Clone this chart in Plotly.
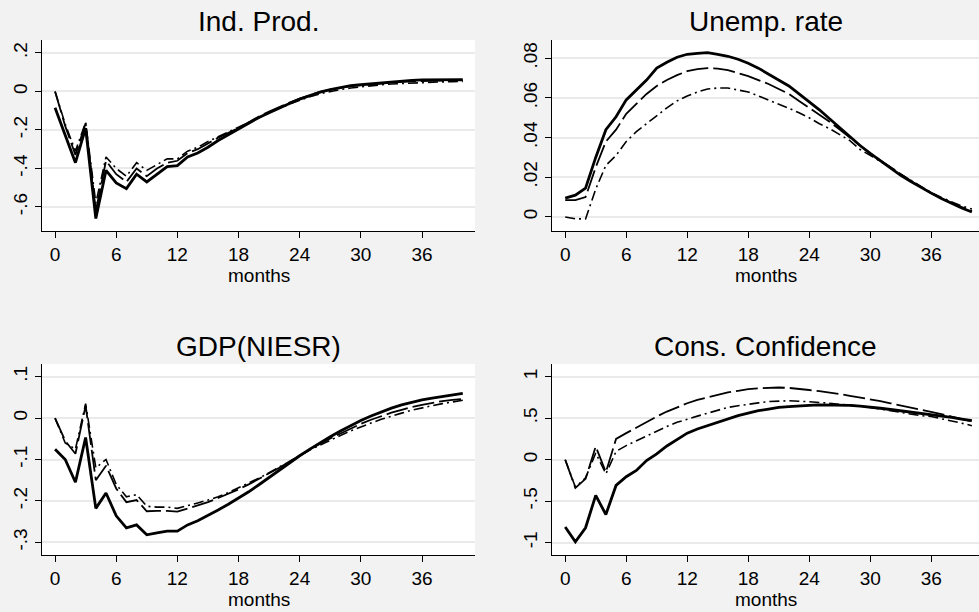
import plotly.graph_objects as go

months = list(range(41))

# Ind. Prod.
ip_solid = [-0.085, -0.23, -0.37, -0.19, -0.66, -0.41, -0.475, -0.505, -0.43, -0.47, -0.43,
            -0.39, -0.385, -0.34, -0.32, -0.29, -0.255, -0.225, -0.195, -0.165, -0.135,
            -0.11, -0.085, -0.062, -0.04, -0.02, -0.003, 0.01, 0.02, 0.03, 0.035,
            0.04, 0.045, 0.05, 0.055, 0.058, 0.06, 0.061, 0.062, 0.062, 0.062]
ip_dash = [0.0, -0.18, -0.33, -0.165, -0.62, -0.36, -0.43, -0.47, -0.40, -0.44, -0.40,
           -0.37, -0.36, -0.32, -0.30, -0.27, -0.24, -0.215, -0.19, -0.16, -0.13,
           -0.105, -0.08, -0.058, -0.037, -0.018, -0.002, 0.01, 0.02, 0.028, 0.033,
           0.038, 0.043, 0.047, 0.05, 0.053, 0.055, 0.056, 0.057, 0.058, 0.058]
ip_dashdot = [0.0, -0.17, -0.31, -0.16, -0.58, -0.34, -0.40, -0.44, -0.37, -0.41, -0.38,
              -0.35, -0.35, -0.31, -0.29, -0.26, -0.235, -0.21, -0.185, -0.16, -0.135,
              -0.11, -0.087, -0.065, -0.045, -0.027, -0.012, 0.0, 0.01, 0.018, 0.025,
              0.03, 0.035, 0.039, 0.042, 0.045, 0.047, 0.049, 0.05, 0.051, 0.052]

# Unemp. rate
ur_solid = [0.0095, 0.011, 0.0145, 0.030, 0.044, 0.0505, 0.059, 0.064, 0.069, 0.075, 0.078,
            0.0805, 0.082, 0.0825, 0.0828, 0.082, 0.081, 0.0795, 0.0775, 0.075, 0.072,
            0.069, 0.066, 0.062, 0.058, 0.054, 0.0495, 0.045, 0.0405, 0.036, 0.032,
            0.0282, 0.0245, 0.021, 0.0178, 0.0148, 0.012, 0.0093, 0.0068, 0.0045, 0.0025]
ur_dash = [0.0085, 0.0085, 0.010, 0.025, 0.038, 0.044, 0.052, 0.057, 0.062, 0.066, 0.069,
           0.0715, 0.0735, 0.0745, 0.075, 0.0748, 0.074, 0.0725, 0.071, 0.069, 0.067,
           0.0645, 0.062, 0.0585, 0.055, 0.0515, 0.048, 0.044, 0.040, 0.036, 0.032,
           0.0285, 0.025, 0.0215, 0.0182, 0.015, 0.012, 0.0095, 0.007, 0.005, 0.003]
ur_dashdot = [0.0, -0.001, -0.001, 0.014, 0.026, 0.031, 0.038, 0.043, 0.047, 0.051, 0.055,
              0.0585, 0.061, 0.063, 0.0645, 0.065, 0.065, 0.064, 0.063, 0.061, 0.059,
              0.057, 0.0548, 0.0525, 0.050, 0.047, 0.0445, 0.0415, 0.0385, 0.034, 0.031,
              0.028, 0.025, 0.0215, 0.0183, 0.0153, 0.0123, 0.0098, 0.0075, 0.0055, 0.004]

# GDP(NIESR)
gdp_solid = [-0.075, -0.1, -0.155, -0.047, -0.218, -0.181, -0.236, -0.265, -0.258, -0.282, -0.277,
             -0.273, -0.273, -0.258, -0.248, -0.236, -0.222, -0.208, -0.194, -0.178, -0.161,
             -0.143, -0.125, -0.108, -0.091, -0.075, -0.059, -0.045, -0.031, -0.018, -0.006,
             0.005, 0.015, 0.024, 0.032, 0.038, 0.044, 0.048, 0.052, 0.056, 0.06]
gdp_dash = [0.0, -0.055, -0.086, 0.03, -0.15, -0.115, -0.17, -0.203, -0.198, -0.225, -0.224,
            -0.224, -0.226, -0.218, -0.21, -0.203, -0.193, -0.183, -0.172, -0.16, -0.147,
            -0.134, -0.12, -0.105, -0.09, -0.075, -0.062, -0.049, -0.037, -0.025, -0.014,
            -0.004, 0.005, 0.013, 0.02, 0.027, 0.032, 0.037, 0.041, 0.044, 0.046]
gdp_dashdot = [0.0, -0.06, -0.075, 0.035, -0.12, -0.1, -0.16, -0.19, -0.185, -0.213, -0.215,
               -0.215, -0.218, -0.212, -0.205, -0.198, -0.19, -0.18, -0.169, -0.157, -0.145,
               -0.132, -0.118, -0.104, -0.09, -0.077, -0.065, -0.053, -0.042, -0.031, -0.021,
               -0.012, -0.003, 0.005, 0.012, 0.019, 0.025, 0.03, 0.035, 0.039, 0.043]

# Cons. Confidence
cc_solid = [-0.81, -0.99, -0.82, -0.43, -0.66, -0.31, -0.205, -0.13, -0.01, 0.07, 0.165,
            0.245, 0.32, 0.37, 0.41, 0.45, 0.49, 0.53, 0.56, 0.59, 0.61,
            0.63, 0.64, 0.65, 0.655, 0.66, 0.66, 0.66, 0.655, 0.645, 0.635,
            0.62, 0.605, 0.59, 0.575, 0.56, 0.545, 0.53, 0.51, 0.49, 0.47]
cc_dash = [0.0, -0.34, -0.23, 0.16, -0.15, 0.25, 0.32, 0.39, 0.45, 0.52, 0.58,
           0.63, 0.68, 0.72, 0.75, 0.78, 0.81, 0.83, 0.85, 0.86, 0.865,
           0.87, 0.865, 0.855, 0.84, 0.825, 0.81, 0.79, 0.77, 0.75, 0.73,
           0.705, 0.68, 0.655, 0.63, 0.605, 0.58, 0.55, 0.52, 0.49, 0.46]
cc_dashdot = [0.0, -0.33, -0.22, 0.08, -0.17, 0.1, 0.17, 0.23, 0.29, 0.35, 0.40,
              0.45, 0.49, 0.525, 0.56, 0.595, 0.63, 0.65, 0.67, 0.685, 0.70,
              0.705, 0.71, 0.705, 0.70, 0.69, 0.68, 0.67, 0.66, 0.645, 0.63,
              0.61, 0.59, 0.57, 0.55, 0.53, 0.52, 0.495, 0.47, 0.44, 0.41]

titles = ["Ind. Prod.", "Unemp. rate", "GDP(NIESR)", "Cons. Confidence"]
x_ticks = [0, 6, 12, 18, 24, 30, 36]
x_ticktext = ["0", "6", "12", "18", "24", "30", "36"]
y_ticks = [
    [0.2, 0.0, -0.2, -0.4, -0.6],
    [0.08, 0.06, 0.04, 0.02, 0.0],
    [0.1, 0.0, -0.1, -0.2, -0.3],
    [1.0, 0.5, 0.0, -0.5, -1.0],
]
y_ticktext = [
    [".2", "0", "-.2", "-.4", "-.6"],
    [".08", ".06", ".04", ".02", "0"],
    [".1", "0", "-.1", "-.2", "-.3"],
    ["1", ".5", "0", "-.5", "-1"],
]
series = [
    (ip_solid, ip_dash, ip_dashdot),
    (ur_solid, ur_dash, ur_dashdot),
    (gdp_solid, gdp_dash, gdp_dashdot),
    (cc_solid, cc_dash, cc_dashdot),
]

W, H = 979, 612
# pixel geometry of plot areas: (left, right, top, bottom)
boxes = [(42, 475, 40, 231), (552, 979, 40, 231), (42, 475, 364, 555), (552, 979, 364, 555)]
x_ranges = [[-1.28, 41.2], [-1.3, 40.7], [-1.28, 41.2], [-1.3, 40.7]]
y_ranges = [[-0.725, 0.2675], [-0.0071, 0.0892], [-0.3307, 0.1307], [-1.148, 1.153]]

FONT = "Liberation Sans, Arial, sans-serif"
fig = go.Figure()
annotations = []
for i in range(4):
    xa = "x" if i == 0 else f"x{i+1}"
    ya = "y" if i == 0 else f"y{i+1}"
    s, d, dd = series[i]
    fig.add_trace(go.Scatter(x=months, y=dd, mode="lines", xaxis=xa, yaxis=ya,
                             line=dict(color="black", width=1.6, dash="10px,4px,2px,4px")))
    fig.add_trace(go.Scatter(x=months, y=d, mode="lines", xaxis=xa, yaxis=ya,
                             line=dict(color="black", width=1.8, dash="22px,5px")))
    fig.add_trace(go.Scatter(x=months, y=s, mode="lines", xaxis=xa, yaxis=ya,
                             line=dict(color="black", width=2.8)))
    l, r, t, b = boxes[i]
    xdom = [l / W, r / W]
    ydom = [1 - b / H, 1 - t / H]
    xkey = "xaxis" if i == 0 else f"xaxis{i+1}"
    ykey = "yaxis" if i == 0 else f"yaxis{i+1}"
    fig.layout[xkey] = dict(domain=xdom, range=x_ranges[i], anchor=ya,
                            tickvals=x_ticks, ticktext=x_ticktext, ticks="outside",
                            ticklen=6, tickwidth=1.2, tickcolor="black",
                            showline=True, linecolor="black", linewidth=1.3,
                            showgrid=False, zeroline=False,
                            tickfont=dict(family=FONT, size=19, color="black"))
    fig.layout[ykey] = dict(domain=ydom, range=y_ranges[i], anchor=xa,
                            tickvals=y_ticks[i], ticktext=y_ticktext[i], ticks="outside",
                            ticklen=6, tickwidth=1.2, tickcolor="black", tickangle=-90,
                            showline=True, linecolor="black", linewidth=1.3,
                            showgrid=True, gridcolor="#eaeaea", gridwidth=1.5,
                            zeroline=False,
                            tickfont=dict(family=FONT, size=19, color="black"))
    cx = (l + r) / 2 / W if i in (0, 2) else (l + 979) / 2 / W
    annotations.append(dict(text=titles[i], x=cx, y=1 - (t - 18) / H, xref="paper", yref="paper",
                            xanchor="center", yanchor="middle", showarrow=False,
                            font=dict(family=FONT, size=28, color="black")))
    annotations.append(dict(text="months", x=cx, y=1 - (b + 44) / H, xref="paper", yref="paper",
                            xanchor="center", yanchor="middle", showarrow=False,
                            font=dict(family=FONT, size=19, color="black")))

fig.update_layout(width=W, height=H, margin=dict(l=0, r=0, t=0, b=0),
                  paper_bgcolor="#f2f2f2", plot_bgcolor="white", showlegend=False,
                  annotations=annotations)
fig.write_html("out.html", config={"displayModeBar": False},
               post_script="document.body.style.margin='0';document.body.style.padding='0';"
                           "document.body.style.overflow='hidden';")
